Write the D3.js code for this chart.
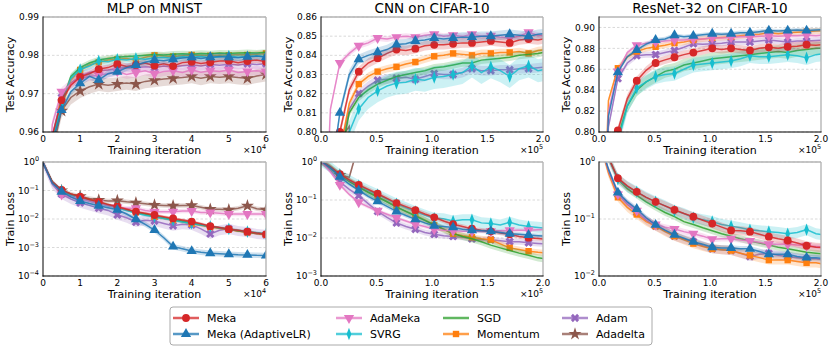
<!DOCTYPE html>
<html><head><meta charset="utf-8">
<script src="https://cdn.jsdelivr.net/npm/d3@7"></script>
<style>body{margin:0;background:#fff}svg{display:block}text{font-family:"DejaVu Sans",sans-serif;fill:#000}</style>
</head><body><svg id="c" width="831" height="346"></svg>
<script>
// ---------- series definitions ----------
const seriesNames = ["Meka","Meka (AdaptiveLR)","AdaMeka","SVRG","SGD","Momentum","Adam","Adadelta"];
const seriesColors = ["#d62728","#1f77b4","#e377c2","#17becf","#2ca02c","#ff7f0e","#9467bd","#8c564b"];
const seriesMarkers = ["circle","triangle","triangleDown","diamond",null,"square","x","star"];
const drawOrder = [7,6,5,4,3,2,0,1];

// ---------- x grids (iterations) ----------
const mlpIters = [0,0.25,0.5,0.75,1,1.25,1.5,1.75,2,2.25,2.5,2.75,3,3.25,3.5,3.75,4,4.25,4.5,4.75,5,5.25,5.5,5.75,6]; // x1e4
const cifarIters = [0,0.085,0.17,0.255,0.34,0.425,0.51,0.595,0.68,0.765,0.85,0.935,1.02,1.105,1.19,1.275,1.36,1.445,1.53,1.615,1.70,1.785,1.87,1.955,2.04]; // x1e5

// ---------- tick labels ----------
const mlpXTicks = [0,1,2,3,4,5,6];
const mlpXTickLabels = ["0","1","2","3","4","5","6"];
const cifarXTicks = [0,0.5,1,1.5,2];
const cifarXTickLabels = ["0.0","0.5","1.0","1.5","2.0"];
const mlpAccTicks = [0.96,0.97,0.98,0.99];
const cnnAccTicks = [0.80,0.81,0.82,0.83,0.84,0.85,0.86];
const resAccTicks = [0.80,0.82,0.84,0.86,0.88,0.90];
const mlpLossExp = [0,-1,-2,-3,-4];
const cnnLossExp = [0,-1,-2,-3];
const resLossExp = [0,-1,-2];

// ---------- MLP on MNIST : test accuracy ----------
const mlpAccMeka     = [0.92,0.959,0.9683,0.9722,0.9744,0.9752,0.9764,0.9768,0.9777,0.9771,0.9775,0.9780,0.9773,0.9778,0.9772,0.9781,0.9783,0.9779,0.9782,0.9785,0.9786,0.9781,0.9785,0.9788,0.9783];
const mlpAccAdaptive = [0.92,0.957,0.9657,0.9705,0.9727,0.9745,0.9736,0.9752,0.9757,0.9768,0.9775,0.9782,0.9788,0.9786,0.9790,0.9793,0.9795,0.9792,0.9795,0.9797,0.9795,0.9794,0.9796,0.9798,0.9795];
const mlpAccAdaMeka  = [0.925,0.962,0.9705,0.9725,0.9740,0.9745,0.9748,0.9752,0.9758,0.9750,0.9755,0.9760,0.9752,0.9758,0.9760,0.9755,0.9762,0.9756,0.9760,0.9758,0.9762,0.9755,0.9758,0.9760,0.9757];
const mlpAccSVRG     = [0.92,0.958,0.9670,0.9740,0.9763,0.9772,0.9785,0.9783,0.9790,0.9788,0.9792,0.9790,0.9793,0.9795,0.9792,0.9796,0.9795,0.9797,0.9794,0.9796,0.9798,0.9795,0.9797,0.9798,0.9796];
const mlpAccSGD      = [0.92,0.958,0.9675,0.9745,0.9768,0.9780,0.9788,0.9792,0.9795,0.9797,0.9798,0.9800,0.9802,0.9801,0.9803,0.9804,0.9803,0.9805,0.9804,0.9806,0.9805,0.9806,0.9807,0.9806,0.9808];
const mlpAccMomentum = [0.92,0.957,0.9665,0.9735,0.9762,0.9775,0.9782,0.9788,0.9790,0.9792,0.9787,0.9795,0.9800,0.9798,0.9797,0.9799,0.9801,0.9800,0.9799,0.9801,0.9800,0.9802,0.9801,0.9803,0.9805];
const mlpAccAdam     = [0.92,0.959,0.9690,0.9728,0.9745,0.9755,0.9760,0.9762,0.9765,0.9768,0.9767,0.9770,0.9768,0.9772,0.9770,0.9773,0.9775,0.9772,0.9776,0.9774,0.9777,0.9775,0.9778,0.9776,0.9778];
const mlpAccAdadelta = [0.915,0.955,0.9655,0.9690,0.9707,0.9718,0.9725,0.9722,0.9725,0.9728,0.9725,0.9732,0.9735,0.9738,0.9740,0.9742,0.9745,0.9740,0.9745,0.9743,0.9745,0.9742,0.9740,0.9746,0.9750];
const mlpAccSpread   = [0.0008,0.0009,0.0012,0.001,0.0008,0.0008,0.0012,0.0018];

// ---------- CNN on CIFAR-10 : test accuracy ----------
const cnnAccMeka     = [0.70,0.76,0.800,0.822,0.8315,0.836,0.8385,0.841,0.843,0.8425,0.8435,0.845,0.8455,0.8455,0.846,0.8465,0.8465,0.847,0.8475,0.847,0.8465,0.848,0.8485,0.848,0.849];
const cnnAccAdaptive = [0.70,0.775,0.810,0.830,0.838,0.840,0.8416,0.843,0.8456,0.846,0.8475,0.848,0.849,0.8485,0.849,0.8495,0.8495,0.850,0.850,0.8505,0.851,0.8505,0.850,0.851,0.8515];
const cnnAccAdaMeka  = [0.70,0.812,0.836,0.841,0.845,0.8465,0.849,0.8485,0.8495,0.850,0.8495,0.8505,0.851,0.850,0.8505,0.8498,0.851,0.850,0.8502,0.8495,0.849,0.850,0.852,0.8505,0.8502];
const cnnAccSVRG     = [0.70,0.74,0.775,0.800,0.812,0.818,0.8215,0.824,0.8255,0.826,0.8275,0.827,0.8285,0.829,0.830,0.831,0.8345,0.831,0.834,0.832,0.829,0.833,0.8345,0.832,0.833];
const cnnAccSGD      = [0.70,0.75,0.785,0.810,0.818,0.822,0.825,0.827,0.829,0.830,0.831,0.832,0.8335,0.834,0.835,0.836,0.836,0.8375,0.838,0.8385,0.839,0.840,0.8405,0.841,0.842];
const cnnAccMomentum = [0.70,0.75,0.790,0.815,0.825,0.829,0.8315,0.833,0.834,0.8355,0.8365,0.838,0.8395,0.840,0.841,0.8405,0.840,0.841,0.841,0.8415,0.8415,0.842,0.841,0.8425,0.843];
const cnnAccAdam     = [0.70,0.75,0.790,0.812,0.820,0.824,0.827,0.8275,0.828,0.8285,0.8275,0.829,0.8305,0.830,0.830,0.831,0.833,0.832,0.832,0.8325,0.8325,0.833,0.833,0.8335,0.834];
const cnnAccAdadelta = [0.70,0.76,0.796,0.803,0.50,null,null,null,null,null,null,null,null,null,null,null,null,null,null,null,null,null,null,null,null];
const cnnAccSpread   = [0.0025,0.0025,0.0015,0.006,0.002,0.002,0.0025,0.003];

// ---------- ResNet-32 on CIFAR-10 : test accuracy ----------
const resAccMeka     = [0.50,0.70,0.8015,0.832,0.849,0.859,0.866,0.869,0.8715,0.874,0.876,0.878,0.880,0.879,0.880,0.879,0.878,0.880,0.881,0.880,0.8815,0.882,0.8835,0.883,0.884];
const resAccAdaptive = [0.60,0.815,0.857,0.872,0.8785,0.884,0.888,0.889,0.8925,0.891,0.892,0.893,0.894,0.8935,0.894,0.895,0.895,0.896,0.897,0.8965,0.897,0.8975,0.897,0.8975,0.898];
const resAccAdaMeka  = [0.60,0.820,0.858,0.876,0.883,0.885,0.886,0.887,0.888,0.888,0.889,0.889,0.890,0.890,0.8905,0.891,0.891,0.8915,0.892,0.8915,0.892,0.892,0.8925,0.892,0.893];
const resAccSVRG     = [0.50,0.68,0.790,0.825,0.842,0.848,0.853,0.855,0.856,0.860,0.864,0.865,0.866,0.867,0.868,0.870,0.873,0.872,0.872,0.873,0.874,0.873,0.871,0.874,0.875];
const resAccSGD      = [0.50,0.69,0.795,0.825,0.840,0.848,0.853,0.858,0.860,0.864,0.866,0.868,0.870,0.871,0.872,0.873,0.874,0.875,0.876,0.877,0.876,0.878,0.879,0.880,0.880];
const resAccMomentum = [0.60,0.830,0.861,0.872,0.877,0.880,0.8815,0.883,0.885,0.886,0.888,0.889,0.890,0.8905,0.891,0.892,0.893,0.8935,0.895,0.894,0.895,0.8955,0.896,0.8965,0.897];
const resAccAdam     = [0.60,0.805,0.851,0.866,0.873,0.874,0.874,0.876,0.878,0.881,0.8845,0.884,0.8845,0.885,0.886,0.886,0.886,0.887,0.888,0.887,0.886,0.887,0.887,0.8875,0.888];
const resAccAdadelta = null;
const resAccSpread   = [0.004,0.002,0.002,0.007,0.006,0.003,0.003,0];

// ---------- MLP on MNIST : train loss ----------
const mlpLossMeka     = [0.95,0.20,0.104,0.075,0.061,0.048,0.040,0.032,0.027,0.022,0.018,0.016,0.0138,0.012,0.0105,0.0093,0.0081,0.0068,0.0056,0.0050,0.0044,0.0040,0.0036,0.0032,0.0029];
const mlpLossAdaptive = [0.95,0.18,0.091,0.060,0.043,0.035,0.029,0.025,0.021,0.015,0.0098,0.0065,0.0041,0.0022,0.00107,0.0009,0.00075,0.00068,0.00063,0.0006,0.00058,0.00056,0.00055,0.00053,0.00052];
const mlpLossAdaMeka  = [0.95,0.17,0.072,0.058,0.050,0.042,0.036,0.030,0.026,0.024,0.024,0.020,0.018,0.018,0.018,0.019,0.019,0.017,0.017,0.016,0.015,0.015,0.015,0.015,0.015];
const mlpLossSVRG     = [0.95,0.19,0.098,0.068,0.055,0.043,0.035,0.029,0.025,0.020,0.016,0.0135,0.012,0.0105,0.009,0.0078,0.007,0.0062,0.0055,0.0049,0.0045,0.004,0.0036,0.0033,0.003];
const mlpLossSGD      = [0.95,0.20,0.100,0.073,0.058,0.047,0.039,0.032,0.026,0.021,0.0175,0.015,0.0125,0.011,0.0096,0.0083,0.0072,0.0063,0.0055,0.0049,0.0044,0.0039,0.0035,0.0032,0.0029];
const mlpLossMomentum = [0.95,0.20,0.100,0.072,0.058,0.046,0.038,0.031,0.026,0.021,0.017,0.0145,0.012,0.0105,0.0092,0.008,0.0068,0.006,0.0052,0.0047,0.0043,0.0038,0.0034,0.0031,0.0028];
const mlpLossAdam     = [0.95,0.17,0.075,0.050,0.037,0.030,0.024,0.020,0.014,0.011,0.0078,0.009,0.0085,0.007,0.0058,0.0065,0.0062,0.0045,0.0030,0.0040,0.0045,0.0038,0.0035,0.0030,0.0028];
const mlpLossAdadelta = [0.95,0.19,0.100,0.075,0.062,0.052,0.046,0.043,0.044,0.040,0.037,0.034,0.031,0.030,0.029,0.030,0.030,0.026,0.022,0.022,0.021,0.024,0.029,0.023,0.021];
const mlpLossSpread   = [1.12,1.25,1.2,1.12,1.1,1.12,1.5,1.2];

// ---------- CNN on CIFAR-10 : train loss ----------
const cnnLossMeka     = [1.05,0.75,0.48,0.34,0.25,0.19,0.146,0.11,0.083,0.067,0.054,0.043,0.035,0.028,0.023,0.020,0.0175,0.016,0.015,0.0135,0.0125,0.011,0.0102,0.0097,0.0092];
const cnnLossAdaptive = [1.05,0.70,0.41,0.26,0.178,0.125,0.092,0.068,0.050,0.039,0.031,0.025,0.021,0.020,0.019,0.017,0.016,0.0155,0.015,0.014,0.013,0.0125,0.012,0.0115,0.011];
const cnnLossAdaMeka  = [1.05,0.55,0.25,0.14,0.087,0.066,0.052,0.042,0.034,0.028,0.023,0.020,0.017,0.016,0.0155,0.015,0.015,0.015,0.015,0.0155,0.016,0.016,0.016,0.0165,0.017];
const cnnLossSVRG     = [1.05,0.74,0.46,0.33,0.24,0.18,0.14,0.105,0.08,0.063,0.05,0.04,0.033,0.032,0.028,0.03,0.03,0.025,0.024,0.022,0.026,0.022,0.02,0.019,0.018];
const cnnLossSGD      = [1.05,0.72,0.45,0.31,0.22,0.16,0.12,0.09,0.066,0.05,0.038,0.029,0.022,0.017,0.013,0.011,0.0095,0.008,0.0065,0.0055,0.0047,0.004,0.0035,0.003,0.0028];
const cnnLossMomentum = [1.05,0.72,0.45,0.31,0.22,0.16,0.12,0.09,0.065,0.05,0.04,0.03,0.022,0.017,0.013,0.0115,0.0105,0.0095,0.009,0.007,0.0055,0.005,0.0045,0.0042,0.004];
const cnnLossAdam     = [1.05,0.60,0.30,0.19,0.13,0.08,0.05,0.035,0.025,0.020,0.017,0.014,0.0125,0.0115,0.011,0.0105,0.0095,0.009,0.009,0.0085,0.008,0.008,0.0075,0.0072,0.007];
const cnnLossAdadelta = [1.05,0.70,0.45,0.40,3.0,null,null,null,null,null,null,null,null,null,null,null,null,null,null,null,null,null,null,null,null];
const cnnLossSpread   = [1.15,1.15,1.12,1.4,1.25,1.2,1.2,1.2];

// ---------- ResNet-32 on CIFAR-10 : train loss ----------
const resLossMeka     = [3.0,1.2,0.52,0.38,0.30,0.24,0.20,0.17,0.145,0.125,0.11,0.095,0.083,0.072,0.063,0.062,0.06,0.054,0.049,0.045,0.042,0.038,0.034,0.032,0.031];
const resLossAdaptive = [2.5,0.75,0.29,0.20,0.15,0.105,0.079,0.064,0.053,0.046,0.040,0.036,0.032,0.031,0.031,0.030,0.030,0.027,0.024,0.024,0.024,0.022,0.021,0.021,0.02];
const resLossAdaMeka  = [2.5,0.72,0.27,0.19,0.14,0.10,0.08,0.072,0.067,0.06,0.055,0.05,0.044,0.045,0.045,0.043,0.041,0.039,0.036,0.036,0.036,0.035,0.034,0.033,0.032];
const resLossSVRG     = [3.0,1.2,0.50,0.37,0.30,0.24,0.20,0.17,0.14,0.125,0.105,0.097,0.09,0.08,0.075,0.07,0.065,0.062,0.06,0.058,0.055,0.058,0.065,0.055,0.052];
const resLossSGD      = [3.0,1.2,0.50,0.34,0.26,0.20,0.16,0.13,0.11,0.09,0.08,0.07,0.062,0.055,0.05,0.045,0.041,0.038,0.035,0.032,0.03,0.028,0.026,0.025,0.024];
const resLossMomentum = [2.5,0.65,0.24,0.16,0.12,0.09,0.075,0.06,0.05,0.043,0.037,0.033,0.03,0.029,0.028,0.025,0.023,0.021,0.019,0.019,0.019,0.018,0.017,0.017,0.016];
const resLossAdam     = [2.5,0.70,0.27,0.18,0.13,0.095,0.075,0.062,0.05,0.044,0.04,0.034,0.03,0.029,0.028,0.025,0.022,0.024,0.025,0.023,0.022,0.021,0.02,0.02,0.019];
const resLossAdadelta = null;
const resLossSpread   = [1.2,1.12,1.12,1.25,1.15,1.2,1.2,1.2];

// ---------- layout ----------
const cols = [[43,266],[321,543],[599,821]];
const rows = [[17,132],[162,276]];

const panels = [
  {c:0,r:0,title:"MLP on MNIST",ylab:"Test Accuracy",x:mlpIters,xmax:6,xt:mlpXTicks,xtl:mlpXTickLabels,exp:"4",log:false,ydom:[0.96,0.99],yt:mlpAccTicks,
   s:[mlpAccMeka,mlpAccAdaptive,mlpAccAdaMeka,mlpAccSVRG,mlpAccSGD,mlpAccMomentum,mlpAccAdam,mlpAccAdadelta],sp:mlpAccSpread},
  {c:1,r:0,title:"CNN on CIFAR-10",ylab:"Test Accuracy",x:cifarIters,xmax:2,xt:cifarXTicks,xtl:cifarXTickLabels,exp:"5",log:false,ydom:[0.80,0.86],yt:cnnAccTicks,
   s:[cnnAccMeka,cnnAccAdaptive,cnnAccAdaMeka,cnnAccSVRG,cnnAccSGD,cnnAccMomentum,cnnAccAdam,cnnAccAdadelta],sp:cnnAccSpread},
  {c:2,r:0,title:"ResNet-32 on CIFAR-10",ylab:"Test Accuracy",x:cifarIters,xmax:2,xt:cifarXTicks,xtl:cifarXTickLabels,exp:"5",log:false,ydom:[0.80,0.91],yt:resAccTicks,
   s:[resAccMeka,resAccAdaptive,resAccAdaMeka,resAccSVRG,resAccSGD,resAccMomentum,resAccAdam,resAccAdadelta],sp:resAccSpread},
  {c:0,r:1,ylab:"Train Loss",x:mlpIters,xmax:6,xt:mlpXTicks,xtl:mlpXTickLabels,exp:"4",log:true,ydom:[1e-4,1],yt:mlpLossExp,
   s:[mlpLossMeka,mlpLossAdaptive,mlpLossAdaMeka,mlpLossSVRG,mlpLossSGD,mlpLossMomentum,mlpLossAdam,mlpLossAdadelta],sp:mlpLossSpread},
  {c:1,r:1,ylab:"Train Loss",x:cifarIters,xmax:2,xt:cifarXTicks,xtl:cifarXTickLabels,exp:"5",log:true,ydom:[1e-3,1],yt:cnnLossExp,
   s:[cnnLossMeka,cnnLossAdaptive,cnnLossAdaMeka,cnnLossSVRG,cnnLossSGD,cnnLossMomentum,cnnLossAdam,cnnLossAdadelta],sp:cnnLossSpread},
  {c:2,r:1,ylab:"Train Loss",x:cifarIters,xmax:2,xt:cifarXTicks,xtl:cifarXTickLabels,exp:"5",log:true,ydom:[1e-2,1],yt:resLossExp,
   s:[resLossMeka,resLossAdaptive,resLossAdaMeka,resLossSVRG,resLossSGD,resLossMomentum,resLossAdam,resLossAdadelta],sp:resLossSpread}
];

const svg = d3.select("#c");
const defs = svg.append("defs");
const MS = 48;

function markerPath(type, size){
  switch(type){
    case "circle": return d3.symbol().type(d3.symbolCircle).size(size)();
    case "triangle": case "triangleDown": return d3.symbol().type(d3.symbolTriangle).size(size*0.95)();
    case "diamond": return d3.symbol().type(d3.symbolDiamond).size(size*0.95)();
    case "square": return d3.symbol().type(d3.symbolSquare).size(size*0.85)();
    case "x": return d3.symbol().type(d3.symbolCross).size(size*0.9)();
    case "star": return d3.symbol().type(d3.symbolStar).size(size*1.1)();
  }
}
function markerTransform(type,x,y){
  if(type==="triangleDown") return `translate(${x},${y}) rotate(180)`;
  if(type==="diamond") return `translate(${x},${y}) scale(0.65,1)`;
  if(type==="x") return `translate(${x},${y}) rotate(45)`;
  return `translate(${x},${y})`;
}

function supLabel(sel, base, exp, fs){
  sel.append("tspan").text(base);
  sel.append("tspan").attr("font-size", fs*0.72).attr("dy", -fs*0.42).text(exp);
}

panels.forEach((p,pi)=>{
  const [x0,x1] = cols[p.c], [y0,y1] = rows[p.r];
  const xs = d3.scaleLinear().domain([0,p.xmax]).range([x0,x1]);
  const ys = (p.log ? d3.scaleLog() : d3.scaleLinear()).domain(p.ydom).range([y1,y0]);
  const id = "clip"+pi;
  defs.append("clipPath").attr("id",id).append("rect").attr("x",x0).attr("y",y0).attr("width",x1-x0).attr("height",y1-y0);

  // grid
  const tickVals = p.log ? p.yt.map(e=>Math.pow(10,e)) : p.yt;
  svg.append("g").selectAll("line").data(tickVals).join("line")
    .attr("x1",x0).attr("x2",x1).attr("y1",d=>ys(d)).attr("y2",d=>ys(d))
    .attr("stroke","#cfcfcf").attr("stroke-width",0.8).attr("stroke-dasharray","2.5,2");

  const g = svg.append("g").attr("clip-path",`url(#${id})`);
  drawOrder.forEach(i=>{
    const vals = p.s[i]; if(!vals) return;
    const col = seriesColors[i], sp = p.sp[i];
    const pts = p.x.map((xv,k)=>({x:xv,v:vals[k],k})).filter(d=>d.v!=null);
    const lo = d=> p.log ? d.v/sp : d.v-sp;
    const hi = d=> p.log ? d.v*sp : d.v+sp;
    g.append("path").datum(pts)
      .attr("d", d3.area().x(d=>xs(d.x)).y0(d=>ys(lo(d))).y1(d=>ys(hi(d))))
      .attr("fill",col).attr("opacity",0.22);
    g.append("path").datum(pts)
      .attr("d", d3.line().x(d=>xs(d.x)).y(d=>ys(d.v)))
      .attr("fill","none").attr("stroke",col).attr("stroke-width",1.5).attr("opacity",0.85);
    const mt = seriesMarkers[i];
    if(mt){
      const mk = pts.filter(d=>d.k>=2 && d.k%2===0 && d.x<=p.xmax);
      g.append("g").selectAll("path").data(mk).join("path")
        .attr("d", markerPath(mt,MS))
        .attr("transform", d=>markerTransform(mt, xs(d.x), ys(d.v)))
        .attr("fill",col);
    }
  });

  // spines
  svg.append("line").attr("x1",x0).attr("x2",x1).attr("y1",y0).attr("y2",y0).attr("stroke","#b5b5b5").attr("stroke-width",1.4);
  svg.append("line").attr("x1",x1).attr("x2",x1).attr("y1",y0).attr("y2",y1).attr("stroke","#b5b5b5").attr("stroke-width",1.4);
  svg.append("line").attr("x1",x0).attr("x2",x0).attr("y1",y0-0.6).attr("y2",y1+0.6).attr("stroke","#000").attr("stroke-width",1);
  svg.append("line").attr("x1",x0-0.5).attr("x2",x1+0.6).attr("y1",y1).attr("y2",y1).attr("stroke","#000").attr("stroke-width",1);

  const fs = 9;
  // x ticks
  p.xt.forEach((t,k)=>{
    svg.append("text").attr("x",xs(t)).attr("y",y1+6.5).attr("dy","0.35em").attr("text-anchor","middle")
      .attr("font-size",fs).text(p.xtl[k]);
  });
  // y ticks
  p.yt.forEach((t)=>{
    const yv = p.log ? ys(Math.pow(10,t)) : ys(t);
    const tx = svg.append("text").attr("x",x0-4).attr("y",yv).attr("dy","0.35em").attr("text-anchor","end").attr("font-size",fs);
    if(p.log) supLabel(tx,"10", t===0 ? "0" : "\u2212"+Math.abs(t), fs);
    else tx.text(d3.format(".2f")(t));
  });
  // x label
  svg.append("text").attr("x",(x0+x1)/2).attr("y",y1+18.5).attr("dy","0.35em").attr("text-anchor","middle")
    .attr("font-size",11).text("Training iteration");
  // offset text
  const ot = svg.append("text").attr("x",x1).attr("y",y1+18).attr("dy","0.35em").attr("text-anchor","end").attr("font-size",fs);
  supLabel(ot,"\u00d710",p.exp,fs);
  // y label
  svg.append("text").attr("transform",`translate(${x0-33},${(y0+y1)/2}) rotate(-90)`).attr("dy","0.35em")
    .attr("text-anchor","middle").attr("font-size",11).text(p.ylab);
  // title
  if(p.title) svg.append("text").attr("x",(x0+x1)/2).attr("y",13).attr("text-anchor","middle").attr("font-size",13.5).text(p.title);
});

// ---------- legend ----------
const lg = svg.append("g");
lg.append("rect").attr("x",170).attr("y",307).attr("width",482).attr("height",38).attr("rx",3)
  .attr("fill","#fff").attr("stroke","#aaa").attr("stroke-width",1);
const legCols = [173,336,443,562];
const legRows = [318,334];
seriesNames.forEach((name,i)=>{
  const lx = legCols[Math.floor(i/2)], ly = legRows[i%2];
  const col = seriesColors[i];
  lg.append("line").attr("x1",lx).attr("x2",lx+26).attr("y1",ly).attr("y2",ly)
    .attr("stroke",col).attr("stroke-width",2.5).attr("opacity",0.75);
  const mt = seriesMarkers[i];
  if(mt) lg.append("path").attr("d",markerPath(mt,MS)).attr("transform",markerTransform(mt,lx+13,ly)).attr("fill",col);
  lg.append("text").attr("x",lx+34).attr("y",ly).attr("dy","0.35em").attr("font-size",11).text(name);
});
</script></body></html>
